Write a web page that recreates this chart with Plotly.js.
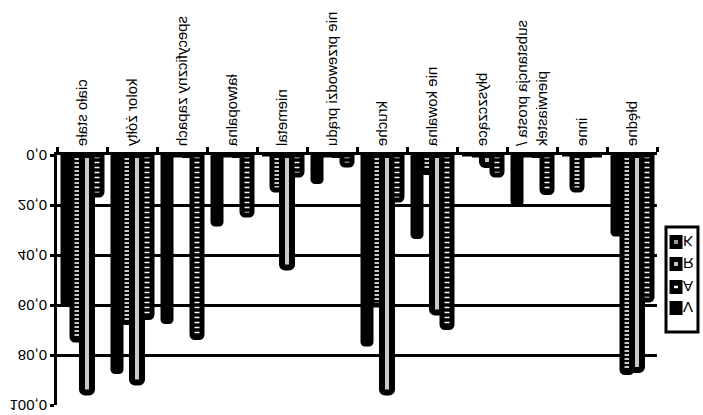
<!DOCTYPE html>
<html>
<head>
<meta charset="utf-8">
<script src="https://cdn.plot.ly/plotly-3.0.1.min.js"></script>
<style>
  html, body { margin: 0; padding: 0; background: #ffffff; }
  #chart { width: 703px; height: 415px; transform: scaleY(-1); transform-origin: 50% 50%; }
</style>
</head>
<body>
<div id="chart"></div>
<script>
// Categories (x axis)
const categories = [
  "ciało stałe", "kolor żółty", "specyficzny zapach", "łatwopalna", "niemetal",
  "nie przewodzi prądu", "kruche", "nie kowalna", "błyszczące",
  "substancja prosta /<br>pierwiastek", "inne", "błędne"
];
// Series names and values (percent)
const seriesNames = ["V", "A", "R", "K"];
const valuesV = [60, 87, 67, 28, 0, 11, 76, 33, 0, 20, 0, 32];
const valuesA = [74, 67, 0, 0, 14, 0, 60, 7, 0, 0, 14, 87];
const valuesR = [95, 91, 0, 0, 45, 0, 95, 63, 4, 0, 0, 86];
const valuesK = [16, 65, 73, 24, 8, 4, 18, 69, 8, 15, 0, 58];
// Y tick labels
const yTickVals = [0, 20, 40, 60, 80, 100];
const yTickText = ["0,0", "20,0", "40,0", "60,0", "80,0", "100,0"];

const font = "Liberation Sans, Arial, sans-serif";

const traces = [
  { name: seriesNames[0], y: valuesV, marker: { color: "#000000", line: { color: "#000000", width: 3 } } },
  { name: seriesNames[1], y: valuesA, marker: { color: "#000000", line: { color: "#000000", width: 5 },
      pattern: { shape: "-", fgcolor: "#ffffff", bgcolor: "#000000", size: 4, solidity: 0.4, fillmode: "replace" } } },
  { name: seriesNames[2], y: valuesR, marker: { color: "#c8c8c8", line: { color: "#000000", width: 6 } } },
  { name: seriesNames[3], y: valuesK, marker: { color: "#000000", line: { color: "#000000", width: 5 },
      pattern: { shape: "-", fgcolor: "#ffffff", bgcolor: "#000000", size: 5, solidity: 0.3, fillmode: "replace" } } }
].map(t => Object.assign({ type: "bar", x: categories, showlegend: false, hoverinfo: "skip" }, t));

// Legend built from the series names (drawn in paper coordinates)
const W = 600, H = 250; // plot area size in px
const px = v => v / W, py = v => v / H;
const legendX0 = 1.015, legendX1 = 1.0683, legendY0 = 0.288, legendY1 = 0.708;
const legendYs = [0.612, 0.528, 0.436, 0.348];
const symX = 1.0317;
const shapes = [
  { type: "rect", xref: "paper", yref: "paper", x0: legendX0, x1: legendX1, y0: legendY0, y1: legendY1,
    line: { color: "#000000", width: 3 }, fillcolor: "#ffffff" }
];
const annotations = [];
const inner = ["none", "#ffffff", "#c8c8c8", "#9a9a9a"];
seriesNames.forEach((n, i) => {
  const yc = legendYs[i];
  shapes.push({ type: "rect", xref: "paper", yref: "paper",
    x0: symX - px(5.5), x1: symX + px(5.5), y0: yc - py(6), y1: yc + py(6),
    line: { color: "#000000", width: 2 }, fillcolor: "#000000" });
  if (inner[i] !== "none") {
    shapes.push({ type: "rect", xref: "paper", yref: "paper",
      x0: symX - px(2), x1: symX + px(2), y0: yc - py(i === 1 ? 1.2 : 2), y1: yc + py(i === 1 ? 1.2 : 2),
      line: { width: 0 }, fillcolor: inner[i] });
  }
  annotations.push({ xref: "paper", yref: "paper", x: symX + px(5), y: yc, text: n,
    xanchor: "left", yanchor: "middle", showarrow: false,
    font: { family: font, size: 15, color: "#000000" } });
});

const layout = {
  width: 703, height: 415,
  margin: { l: 57, r: 46, t: 10, b: 155, pad: 0 },
  paper_bgcolor: "#ffffff", plot_bgcolor: "#ffffff",
  barmode: "group", bargap: 0.2, bargroupgap: 0, barcornerradius: 3,
  font: { family: font, size: 15, color: "#000000" },
  showlegend: false,
  xaxis: {
    type: "category", automargin: false,
    showline: true, linecolor: "#000000", linewidth: 3,
    ticks: "outside", tickson: "boundaries", ticklen: 5, tickwidth: 3, tickcolor: "#000000",
    tickangle: -90, tickfont: { family: font, size: 15, color: "#000000" },
    showgrid: false, zeroline: false
  },
  yaxis: {
    range: [0, 100], automargin: false,
    tickvals: yTickVals, ticktext: yTickText,
    showline: true, linecolor: "#000000", linewidth: 3,
    ticks: "outside", ticklen: 4, tickwidth: 3, tickcolor: "#000000",
    tickfont: { family: font, size: 15, color: "#000000" },
    showgrid: true, gridcolor: "#000000", gridwidth: 3,
    zeroline: false
  },
  shapes: shapes,
  annotations: annotations
};

Plotly.newPlot("chart", traces, layout, { staticPlot: true, displayModeBar: false });
</script>
</body>
</html>
